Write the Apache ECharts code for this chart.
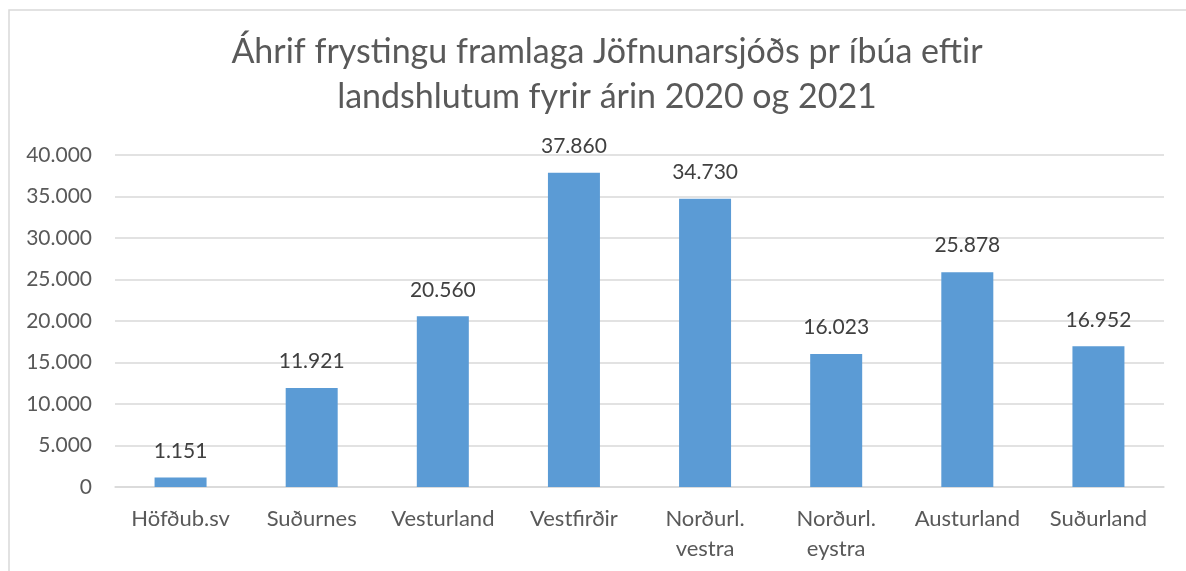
<!DOCTYPE html>
<html>
<head>
<meta charset="utf-8">
<script src="https://cdn.jsdelivr.net/npm/echarts@6/dist/echarts.min.js"></script>
<style>
    html, body { margin: 0; padding: 0; background: #fff; }
    #chart { width: 1186px; height: 571px; }
</style>
</head>
<body>
<div id="chart"></div>
<script>
// landshlutar og upphæð pr íbúa
const regions = ['Höfðub.sv', 'Suðurnes', 'Vesturland', 'Vestfirðir', 'Norðurl.\nvestra', 'Norðurl.\neystra', 'Austurland', 'Suðurland'];
const amounts = [1151, 11921, 20560, 37860, 34730, 16023, 25878, 16952];
const yTicks = [0, 5000, 10000, 15000, 20000, 25000, 30000, 35000, 40000];

const textColor = '#595959';
const fontName = 'Lato';

// 12345 -> 12.345
function fmt(v) {
    return String(v).replace(/\B(?=(\d{3})+(?!\d))/g, '.');
}

const myChart = echarts.init(document.getElementById('chart'));

const option = {
    animation: false,
    title: {
        text: 'Áhrif frystingu framlaga Jöfnunarsjóðs pr íbúa eftir\nlandshlutum fyrir árin 2020 og 2021',
        left: 602,
        top: 25,
        textAlign: 'center',
        textStyle: {
            fontFamily: fontName,
            fontSize: 34,
            fontWeight: 'normal',
            color: textColor,
            lineHeight: 45
        }
    },
    graphic: [{
        type: 'rect',
        shape: { x: 9, y: 10, width: 1200, height: 600 },
        style: { fill: 'none', stroke: '#d9d9d9', lineWidth: 1.5 },
        silent: true
    }],
    grid: { left: 115, right: 22, top: 155, bottom: 84 },
    xAxis: {
        type: 'category',
        data: regions,
        axisTick: { show: false },
        axisLine: { lineStyle: { color: '#d9d9d9', width: 1.5 } },
        axisLabel: {
            fontFamily: fontName,
            fontSize: 22,
            color: textColor,
            margin: 17,
            lineHeight: 30,
            interval: 0
        }
    },
    yAxis: {
        type: 'value',
        min: yTicks[0],
        max: yTicks[yTicks.length - 1],
        interval: 5000,
        axisLine: { show: false },
        axisTick: { show: false },
        splitLine: { lineStyle: { color: '#d9d9d9', width: 1.5 } },
        axisLabel: {
            fontFamily: fontName,
            fontSize: 21,
            color: textColor,
            margin: 23,
            formatter: v => fmt(v)
        }
    },
    series: [{
        type: 'bar',
        data: amounts,
        barWidth: 52,
        itemStyle: { color: '#5b9bd5' },
        label: {
            show: true,
            position: 'top',
            distance: 16,
            fontFamily: fontName,
            fontSize: 21,
            color: '#404040',
            formatter: p => fmt(p.value)
        }
    }]
};

myChart.setOption(option);
</script>
</body>
</html>
